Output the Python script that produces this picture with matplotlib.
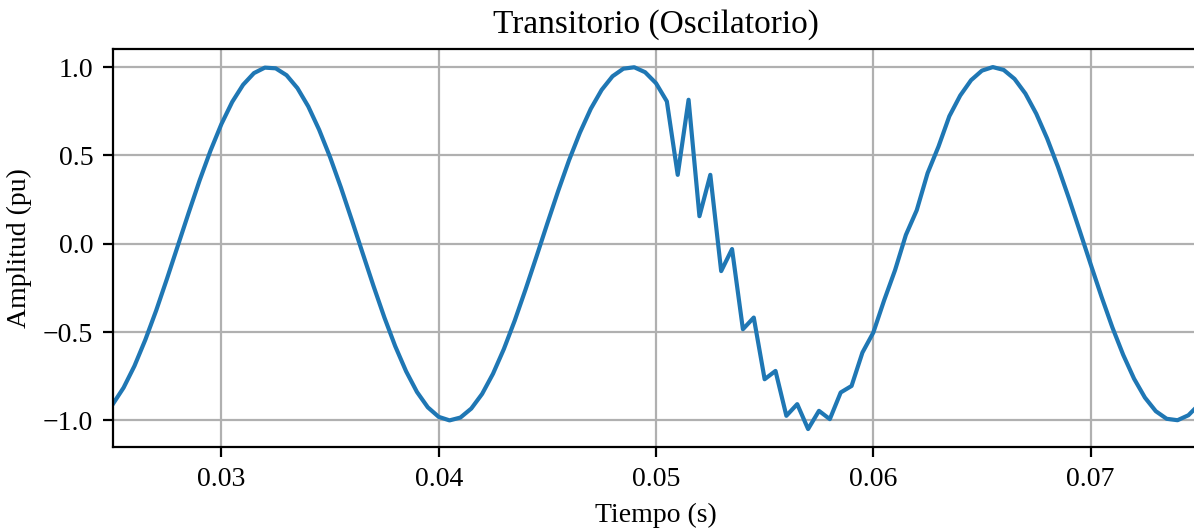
# Transient (oscillatory) waveform plot

import numpy as np
import matplotlib
matplotlib.use('Agg')
import matplotlib.pyplot as plt

# sample times, every 0.5 ms from 0.025 s to 0.075 s
t_start = 0.025
t_step = 0.0005

# amplitude in pu
amplitude = [
    -0.909, -0.815, -0.692, -0.544, -0.378, -0.197, -0.010, 0.177, 0.359, 0.527,
    0.677, 0.803, 0.900, 0.966, 0.997, 0.993, 0.954, 0.881, 0.777, 0.645,
    0.491, 0.319, 0.135, -0.053, -0.239, -0.417, -0.580, -0.722, -0.839, -0.926,
    -0.980, -1.000, -0.984, -0.933, -0.850, -0.736, -0.596, -0.435, -0.258, -0.073,
    0.115, 0.299, 0.473, 0.629, 0.764, 0.871, 0.948, 0.991, 0.999, 0.971,
    0.909, 0.806, 0.390, 0.815, 0.156, 0.390, -0.155, -0.030, -0.484, -0.418,
    -0.767, -0.720, -0.974, -0.908, -1.049, -0.946, -0.993, -0.842, -0.805, -0.616,
    -0.503, -0.320, -0.150, 0.050, 0.190, 0.400, 0.550, 0.722, 0.839, 0.926,
    0.980, 1.000, 0.984, 0.933, 0.850, 0.736, 0.596, 0.435, 0.258, 0.073,
    -0.115, -0.299, -0.473, -0.629, -0.764, -0.871, -0.948, -0.991, -0.999, -0.971,
    -0.909,
]
time = t_start + t_step * np.arange(len(amplitude))

plt.rcParams['font.family'] = ['Liberation Serif', 'DejaVu Serif']
plt.rcParams['font.size'] = 10

fig = plt.figure(figsize=(5.97, 2.645), dpi=200)
ax = fig.add_axes([0.0944, 0.1544, 0.910, 0.753])

ax.plot(time, amplitude, color='#1f77b4')
ax.set_xlim(0.025, 0.075)
ax.set_ylim(-1.1525, 1.1025)
ax.set_xticks([0.03, 0.04, 0.05, 0.06, 0.07])
ax.set_yticks([-1.0, -0.5, 0.0, 0.5, 1.0])
ax.grid(True)
ax.set_title('Transitorio (Oscilatorio)')
ax.set_xlabel('Tiempo (s)')
ax.set_ylabel('Amplitud (pu)')

fig.savefig('out.png', dpi=200)
